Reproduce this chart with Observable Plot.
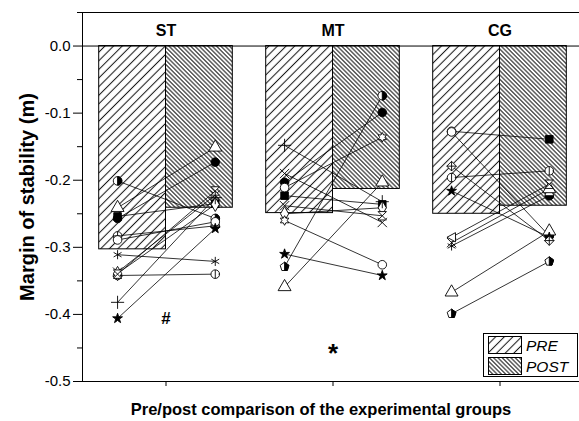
<!DOCTYPE html>
<html><head><meta charset="utf-8">
<script src="https://cdn.jsdelivr.net/npm/d3@7"></script>
<script src="https://cdn.jsdelivr.net/npm/@observablehq/plot@0.6"></script>
<style>
body{margin:0;background:#fff;}
#chart{position:relative;width:579px;height:421px;overflow:hidden;}
</style>
</head><body><div id="chart"></div>
<script>
// ---------- data ----------
const groups = ["ST", "MT", "CG"];
const phases = ["PRE", "POST"];
const meanPre = [-0.303, -0.249, -0.250];
const meanPost = [-0.241, -0.213, -0.238];
const yTicks = [0, -0.1, -0.2, -0.3, -0.4, -0.5];
const yMinorTicks = [0.05, -0.05, -0.15, -0.25, -0.35, -0.45];

const stPreKinds  = ["halfcircle","triangle","sphere","square","circleplus","circle","asterisk","phi","times","diamond","hourglass","plus","star"];
const stPostKinds = ["halfcircle","triangle","sphere","square","circleplus","circle","asterisk","phi","times","diamond","hourglass","plus","star"];
const stPre  = [-0.201,-0.241,-0.257,-0.254,-0.283,-0.289,-0.311,-0.342,-0.337,-0.339,-0.340,-0.382,-0.406];
const stPost = [-0.257,-0.151,-0.173,-0.235,-0.268,-0.262,-0.321,-0.340,-0.222,-0.236,-0.216,-0.226,-0.272];

const mtPreKinds  = ["plus","times","sphere","circle","square","times","diamond","star6","star","halfpent","triangle"];
const mtPostKinds = ["plus","times","sphere","star6","square","hourglass","diamond","circle","star","halfcircle","triangle"];
const mtPre  = [-0.148,-0.190,-0.203,-0.211,-0.223,-0.238,-0.250,-0.260,-0.310,-0.329,-0.359];
const mtPost = [-0.232,-0.263,-0.099,-0.136,-0.236,-0.253,-0.241,-0.326,-0.342,-0.074,-0.203];

const cgPreKinds  = ["halfcircleb","circle","diamondplus","phi","star","triangleleft","times","asterisk","triangle","halfpent"];
const cgPostKinds = ["square","halfcircleb","diamondplus","phi","star","hourglass","triangle","halfcircleb","triangle","halfpent"];
const cgPre  = [-0.127,-0.128,-0.179,-0.196,-0.216,-0.285,-0.293,-0.298,-0.367,-0.399];
const cgPost = [-0.139,-0.283,-0.290,-0.186,-0.285,-0.206,-0.213,-0.223,-0.276,-0.321];

const annotations = [{group: 1, value: -0.406, text: "#"}, {group: 2, value: -0.452, text: "*"}];

// ---------- build tables ----------
const bars = [];
groups.forEach((g, i) => {
  bars.push({group: g, gx: i + 1, phase: "PRE", value: meanPre[i]});
  bars.push({group: g, gx: i + 1, phase: "POST", value: meanPost[i]});
});
const subjects = [];
function addGroup(gi, preK, postK, pre, post) {
  pre.forEach((v, i) => subjects.push({gx: gi + 1, preKind: preK[i], postKind: postK[i], pre: v, post: post[i]}));
}
addGroup(0, stPreKinds, stPostKinds, stPre, stPost);
addGroup(1, mtPreKinds, mtPostKinds, mtPre, mtPost);
addGroup(2, cgPreKinds, cgPostKinds, cgPre, cgPost);

const PRE_OFF = -0.29, POST_OFF = 0.295;
const points = [];
subjects.forEach(s => {
  points.push({x: s.gx + PRE_OFF, y: s.pre, kind: s.preKind});
  points.push({x: s.gx + POST_OFF, y: s.post, kind: s.postKind});
});

// ---------- custom symbols ----------
const R = s => Math.sqrt(s / Math.PI);
const sym = {
  halfRight: {draw(c, s) { const r = R(s); c.moveTo(0, -r); c.arc(0, 0, r, -Math.PI / 2, Math.PI / 2); c.closePath(); }},
  halfBottom: {draw(c, s) { const r = R(s); c.moveTo(r, 0); c.arc(0, 0, r, 0, Math.PI); c.closePath(); }},
  pent: {draw(c, s) { const r = R(s) * 1.1; for (let i = 0; i < 5; i++) { const a = -Math.PI / 2 + i * 2 * Math.PI / 5; const x = r * Math.cos(a), y = r * Math.sin(a); i ? c.lineTo(x, y) : c.moveTo(x, y); } c.closePath(); }},
  pentHalf: {draw(c, s) { const r = R(s) * 1.1; const a1 = -Math.PI / 2 + 2 * Math.PI / 5, a2 = -Math.PI / 2 + 4 * Math.PI / 5;
    c.moveTo(0, -r); c.lineTo(r * Math.cos(a1), r * Math.sin(a1)); c.lineTo(r * Math.cos(a2), r * Math.sin(a2)); c.lineTo(0, r * Math.sin(a2)); c.closePath(); }},
  phi: {draw(c, s) { const r = R(s); c.moveTo(0.75 * r, 0); c.ellipse ? c.ellipse(0, 0, 0.75 * r, r, 0, 0, 2 * Math.PI) : c.arc(0, 0, r, 0, 2 * Math.PI); c.moveTo(0, -r); c.lineTo(0, r); }},
  hourglass: {draw(c, s) { const r = R(s) * 1.05; c.moveTo(-r, -r); c.lineTo(r, -r); c.lineTo(-r, r); c.lineTo(r, r); c.closePath(); }},
  triLeft: {draw(c, s) { const r = R(s) * 1.15; c.moveTo(-r, 0); c.lineTo(r * 0.85, -r); c.lineTo(r * 0.85, r); c.closePath(); }},
  circlePlus: {draw(c, s) { const r = R(s); c.moveTo(r, 0); c.arc(0, 0, r, 0, 2 * Math.PI); c.moveTo(-r, 0); c.lineTo(r, 0); c.moveTo(0, -r); c.lineTo(0, r); }},
  diamondPlus: {draw(c, s) { const r = R(s) * 1.2; c.moveTo(0, -r); c.lineTo(r, 0); c.lineTo(0, r); c.lineTo(-r, 0); c.closePath(); c.moveTo(-r, 0); c.lineTo(r, 0); c.moveTo(0, -r); c.lineTo(0, r); }},
  star6: {draw(c, s) { const r = R(s) * 1.2; for (let i = 0; i < 12; i++) { const a = -Math.PI / 2 + i * Math.PI / 6; const rr = i % 2 ? r * 0.55 : r; const x = rr * Math.cos(a), y = rr * Math.sin(a); i ? c.lineTo(x, y) : c.moveTo(x, y); } c.closePath(); }}
};
// marker style: list of layers [symbol, fill, radius]
const markerStyle = {
  halfcircle: [["circle", "white", 4.3], [sym.halfRight, "black", 4.3]],
  halfcircleb: [["circle", "white", 4.3], [sym.halfBottom, "black", 4.3]],
  triangle: [["triangle", "white", 4.8]],
  sphere: [["circle", "black", 4.3]],
  square: [["square", "black", 4.3]],
  circleplus: [[sym.circlePlus, "white", 4.3]],
  circle: [["circle", "white", 4.3]],
  asterisk: [["asterisk", "none", 4.3]],
  phi: [[sym.phi, "white", 4.3]],
  times: [["times", "none", 4.3]],
  diamond: [["diamond", "white", 4.3]],
  hourglass: [[sym.hourglass, "white", 4]],
  plus: [["plus", "none", 4.3]],
  star: [["star", "black", 3.1]],
  star6: [[sym.star6, "white", 4]],
  halfpent: [[sym.pent, "white", 4.2], [sym.pentHalf, "black", 4.2]],
  diamondplus: [[sym.diamondPlus, "white", 4]],
  triangleleft: [[sym.triLeft, "white", 4]]
};

// ---------- helper marks ----------
function defsMark() {
  const defs = d3.create("svg:defs");
  const mk = (id, w, rot) => {
    const p = defs.append("pattern").attr("id", id).attr("patternUnits", "userSpaceOnUse")
      .attr("width", w).attr("height", w).attr("patternTransform", `rotate(${rot})`);
    p.append("rect").attr("width", w).attr("height", w).attr("fill", "white");
    p.append("line").attr("x1", w / 2).attr("x2", w / 2).attr("y1", -1).attr("y2", w + 1)
      .attr("stroke", "#1a1a1a").attr("stroke-width", 1.05);
  };
  mk("hatchPre", 6.1, 45);
  mk("hatchPost", 3.05, -45);
  return defs.node();
}
function legendMark(index, scales, values, dim) {
  const g = d3.create("svg:g").attr("text-anchor", "start");
  const x0 = dim.width - 96, y0 = dim.height - dim.marginBottom - 48;
  g.append("rect").attr("x", x0 + 0.5).attr("y", y0 + 0.5).attr("width", 94).attr("height", 43)
    .attr("fill", "white").attr("stroke", "black").attr("stroke-width", 1);
  phases.forEach((ph, i) => {
    g.append("rect").attr("x", x0 + 5.5).attr("y", y0 + 3.5 + i * 21).attr("width", 33).attr("height", 17)
      .attr("fill", i ? "url(#hatchPost)" : "url(#hatchPre)").attr("stroke", "black").attr("stroke-width", 1);
    g.append("text").attr("x", x0 + 43).attr("y", y0 + 12 + i * 21).attr("dy", "0.36em")
      .attr("font-size", 15.5).attr("font-style", "italic").attr("fill", "black").text(ph);
  });
  return g.node();
}

// ---------- marks ----------
const dotMarks = [];
Object.entries(markerStyle).forEach(([kind, layers]) => {
  const data = points.filter(p => p.kind === kind);
  if (!data.length) return;
  layers.forEach(([symbol, fill, r]) => {
    dotMarks.push(Plot.dot(data, {x: "x", y: "y", symbol, fill, stroke: "black", strokeWidth: 0.9, r}));
  });
});

const chart = Plot.plot({
  width: 579, height: 421,
  marginLeft: 82, marginRight: 0, marginTop: 12, marginBottom: 40,
  style: {fontFamily: "'Liberation Sans', Arial, Helvetica, sans-serif", background: "white", color: "black"},
  x: {domain: [0.5, 3.476], axis: null},
  y: {domain: [-0.5, 0.05], axis: null},
  marks: [
    defsMark,
    Plot.rect(bars, {
      x1: d => d.phase === "PRE" ? d.gx - 0.4 : d.gx,
      x2: d => d.phase === "PRE" ? d.gx : d.gx + 0.4,
      y1: 0, y2: "value",
      fill: d => d.phase === "PRE" ? "url(#hatchPre)" : "url(#hatchPost)",
      stroke: "black", strokeWidth: 1
    }),
    Plot.ruleY([0], {stroke: "black", strokeWidth: 1}),
    Plot.link(subjects, {x1: d => d.gx + PRE_OFF, y1: "pre", x2: d => d.gx + POST_OFF, y2: "post", stroke: "black", strokeWidth: 0.8}),
    ...dotMarks,
    Plot.frame({stroke: "black", strokeWidth: 1}),
    Plot.axisY(yTicks, {tickSize: 9, tickPadding: 3, tickFormat: d => d.toFixed(1), fontSize: 15, label: null}),
    Plot.axisY(yMinorTicks, {tickSize: 5, tickFormat: () => "", label: null}),
    Plot.axisX([1, 2, 3], {tickSize: 5, tickFormat: () => "", label: null}),
    Plot.text(groups, {x: (d, i) => i + 1, y: 0.05, dy: 18, text: d => d, fontSize: 16, fontWeight: "bold", lineAnchor: "middle"}),
    Plot.text(annotations.filter(a => a.text === "#"), {x: "group", y: "value", text: "text", fontSize: 17, fontWeight: "bold", lineAnchor: "middle"}),
    Plot.text(annotations.filter(a => a.text === "*"), {x: "group", y: "value", text: "text", fontSize: 26, fontWeight: "bold", lineAnchor: "middle", dy: 4}),
    Plot.text(["Margin of stability (m)"], {frameAnchor: "left", dx: -55, rotate: -90, textAnchor: "middle", fontSize: 20, fontWeight: "bold", lineAnchor: "middle"}),
    Plot.text(["Pre/post comparison of the experimental groups"], {frameAnchor: "bottom", dy: 28, dx: -10, textAnchor: "middle", fontSize: 16.5, fontWeight: "bold", lineAnchor: "middle"}),
    legendMark
  ]
});
document.getElementById("chart").appendChild(chart);
</script>
</body></html>
